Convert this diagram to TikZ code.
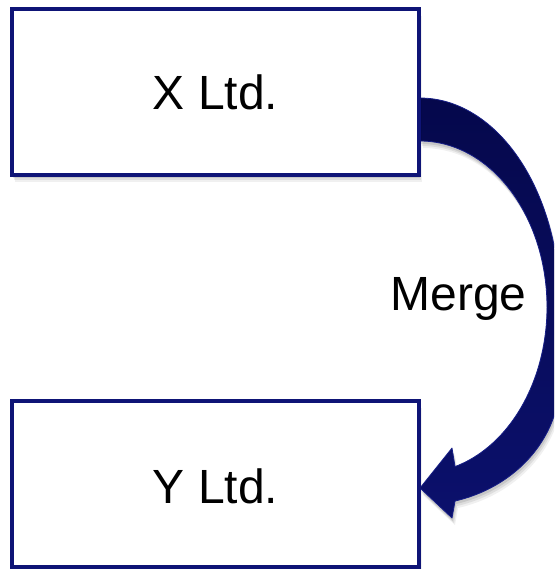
\documentclass[tikz,border=0pt]{standalone}
\usepackage{fontspec}
\setmainfont{Liberation Sans}
\usetikzlibrary{shadows}

\definecolor{boxline}{RGB}{14,20,118}
\definecolor{arrowtop}{RGB}{5,8,76}
\definecolor{arrowbottom}{RGB}{11,16,108}
\definecolor{arrowedge}{RGB}{22,30,134}

\tikzset{
  softshadow/.style={
    general shadow={shadow xshift=1pt, shadow yshift=-3pt, fill=black, opacity=0.10},
    general shadow={shadow xshift=2pt, shadow yshift=-5pt, fill=black, opacity=0.08},
    general shadow={shadow xshift=3pt, shadow yshift=-7pt, fill=black, opacity=0.06}
  },
  company/.style={
    draw=boxline, line width=4pt, fill=white, softshadow,
    minimum width=407pt, minimum height=165.4pt, inner sep=0pt,
    font=\fontsize{48}{56}\selectfont
  },
  mergearrow/.style={
    top color=arrowtop, bottom color=arrowbottom,
    draw=arrowedge, line width=0.8pt, line join=round, softshadow
  },
  caption/.style={font=\fontsize{48}{56}\selectfont, inner sep=0pt}
}

\begin{document}
\begin{tikzpicture}[x=1pt, y=-1pt]
  \useasboundingbox (0,0) rectangle (554,569);
  \clip (0,0) rectangle (554,569);

  % curved "merge" arrow: outer edge (two elliptic quarters),
  % arrow head, then the inner edge back to the start
  \path[mergearrow]
    plot[domain=-90:0, samples=60, variable=\t]
      ({420+140*cos(\t)}, {305+207*sin(\t)})
    -- plot[domain=0:75.5, samples=50, variable=\t]
      ({420+140*cos(\t)}, {380+125*sin(\t)})
    -- (452,518) -- (420,488) -- (452,448)
    -- plot[domain=74:-90, samples=90, variable=\t]
      ({420+127*cos(\t)}, {307+166*sin(\t)})
    -- cycle;

  % the two companies
  \node[company, text height=35pt] (x) at (215.5,92) {X Ltd.};
  \node[company, text height=40pt] (y) at (215.5,484) {Y Ltd.};

  % label of the arrow
  \node[caption, anchor=base] (merge) at (458.5,310) {Merge};
\end{tikzpicture}
\end{document}
